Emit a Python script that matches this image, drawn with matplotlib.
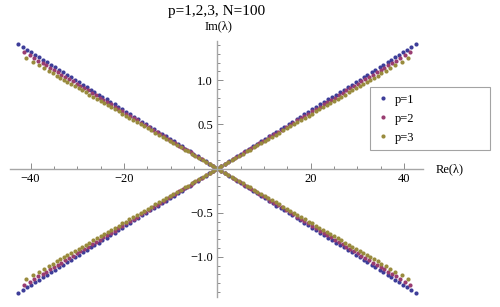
import numpy as np
import matplotlib
matplotlib.use("Agg")
import matplotlib.pyplot as plt
from matplotlib.lines import Line2D
from matplotlib.ticker import MultipleLocator

plt.rcParams['font.family'] = ['Liberation Serif', 'DejaVu Serif']

# one arm (Re>0, Im>0) per series; other arms are mirror images
re_p1 = [0.3, 0.8, 1.7, 2.5, 3.4, 4.2, 5.1, 5.9, 6.8, 7.6, 8.5, 9.3, 10.2, 11.0, 11.9, 12.7, 13.6, 14.4,
         15.3, 16.1, 17.0, 17.8, 18.7, 19.5, 20.4, 21.2, 22.0, 22.9, 23.7, 24.6, 25.4, 26.3, 27.1,
         28.0, 28.8, 29.7, 30.5, 31.4, 32.2, 33.1, 33.9, 34.8, 35.6, 36.5, 37.3, 38.2, 39.0, 39.9,
         40.7, 41.6, 42.7]
im_p1 = [0.010, 0.026, 0.056, 0.083, 0.112, 0.139, 0.168, 0.195, 0.224, 0.251, 0.281, 0.307, 0.337, 0.363,
         0.393, 0.419, 0.449, 0.475, 0.505, 0.531, 0.561, 0.587, 0.617, 0.644, 0.673, 0.700, 0.726,
         0.756, 0.782, 0.812, 0.838, 0.868, 0.894, 0.924, 0.950, 0.980, 1.007, 1.036, 1.063, 1.092,
         1.119, 1.148, 1.175, 1.205, 1.231, 1.261, 1.287, 1.317, 1.343, 1.373, 1.409]

re_p2 = [0.3, 0.8, 1.6, 2.4, 3.3, 4.1, 4.9, 5.7, 6.5, 7.3, 8.1, 9.0, 9.8, 10.6, 11.4, 12.2, 13.0, 13.8,
         14.7, 15.5, 16.3, 17.1, 17.9, 18.7, 19.5, 20.4, 21.2, 22.0, 22.8, 23.6, 24.4, 25.2, 26.0,
         26.9, 27.7, 28.5, 29.3, 30.1, 30.9, 31.7, 32.6, 33.4, 34.2, 35.0, 35.8, 36.6, 37.4, 38.3,
         39.2, 40.2, 41.4]
im_p2 = [0.010, 0.026, 0.051, 0.077, 0.105, 0.131, 0.156, 0.182, 0.207, 0.233, 0.258, 0.287, 0.313, 0.338,
         0.364, 0.389, 0.415, 0.440, 0.469, 0.494, 0.520, 0.545, 0.571, 0.597, 0.622, 0.651, 0.676,
         0.702, 0.727, 0.753, 0.778, 0.804, 0.829, 0.858, 0.884, 0.909, 0.935, 0.960, 0.986, 1.011,
         1.040, 1.065, 1.091, 1.117, 1.142, 1.168, 1.193, 1.222, 1.250, 1.282, 1.321]

re_p3 = [0.3, 0.8, 1.6, 2.3, 3.1, 3.9, 4.7, 5.5, 6.3, 7.0, 7.8, 8.6, 9.4, 10.2, 10.9, 11.7, 12.5, 13.3,
         14.1, 14.9, 15.6, 16.4, 17.2, 18.0, 18.8, 19.6, 20.3, 21.1, 21.9, 22.7, 23.5, 24.2, 25.0,
         25.8, 26.6, 27.4, 28.2, 28.9, 29.7, 30.5, 31.3, 32.1, 32.8, 33.6, 34.4, 35.2, 36.1, 37.1,
         38.2, 39.5, 40.9]
im_p3 = [0.009, 0.024, 0.049, 0.070, 0.095, 0.119, 0.144, 0.168, 0.193, 0.214, 0.239, 0.263, 0.288, 0.312,
         0.334, 0.358, 0.383, 0.407, 0.431, 0.456, 0.477, 0.502, 0.526, 0.551, 0.575, 0.600, 0.621,
         0.646, 0.670, 0.695, 0.719, 0.741, 0.765, 0.789, 0.814, 0.838, 0.863, 0.884, 0.909, 0.933,
         0.958, 0.982, 1.004, 1.028, 1.053, 1.077, 1.105, 1.135, 1.169, 1.209, 1.252]

labels = ['p=1', 'p=2', 'p=3']
colors = [(0.24, 0.24, 0.6), (0.6, 0.24, 0.4428), (0.6, 0.547, 0.24)]

fig = plt.figure(figsize=(5, 3.07), dpi=100)
ax = fig.add_axes([0.02, 0.0326, 0.826, 0.834])

for re, im, c in zip([re_p1, re_p2, re_p3], [im_p1, im_p2, im_p3], colors):
    re = np.array(re)
    im = np.array(im)
    xs = np.concatenate([re, -re, re, -re])
    ys = np.concatenate([im, im, -im, -im])
    ax.plot(xs, ys, 'o', color=c, ms=3.0, mec='none')

ax.set_xlim(-44.4, 44.1)
ax.set_ylim(-1.455, 1.445)

ax.spines['left'].set_position(('data', 0))
ax.spines['bottom'].set_position(('data', 0))
ax.spines['top'].set_visible(False)
ax.spines['right'].set_visible(False)
for s in ['left', 'bottom']:
    ax.spines[s].set_color('#a6a6a6')
    ax.spines[s].set_linewidth(1.0)

ax.xaxis.set_major_locator(MultipleLocator(20))
ax.xaxis.set_minor_locator(MultipleLocator(5))
ax.yaxis.set_major_locator(MultipleLocator(0.5))
ax.yaxis.set_minor_locator(MultipleLocator(0.1))
ax.tick_params(which='both', direction='in', color='#8c8c8c', width=0.7, labelsize=9)
ax.tick_params(which='major', length=4.5)
ax.tick_params(which='minor', length=2.5)
ax.tick_params(axis='x', pad=3)
ax.tick_params(axis='y', pad=3)
ax.set_xticks([-40, -20, 20, 40])
ax.set_yticks([-1.0, -0.5, 0.5, 1.0])
ax.set_yticklabels(['\u22121.0', '\u22120.5', '0.5', '1.0'])
ax.set_xticklabels(['\u221240', '\u221220', '20', '40'])

fig.text(0.434, 0.962, 'p=1,2,3, N=100', ha='center', va='center', fontsize=11)
fig.text(0.436, 0.915, 'Im(\u03bb)', ha='center', va='center', fontsize=9)
fig.text(0.872, 0.449, 'Re(\u03bb)', ha='left', va='center', fontsize=9)

handles = [Line2D([], [], ls='none', marker='o', ms=3.0, color=c, mec='none') for c in colors]
leg = fig.legend(handles, labels, loc='upper left', bbox_to_anchor=(0.74, 0.505, 0.24, 0.212),
                 mode='expand', fontsize=9, frameon=True, fancybox=False, borderpad=0.55,
                 labelspacing=0.55, handlelength=1.05, handletextpad=0.4, borderaxespad=0)
leg.get_frame().set_edgecolor('#8c8c8c')
leg.get_frame().set_linewidth(0.8)

fig.savefig('out.png', dpi=100)
